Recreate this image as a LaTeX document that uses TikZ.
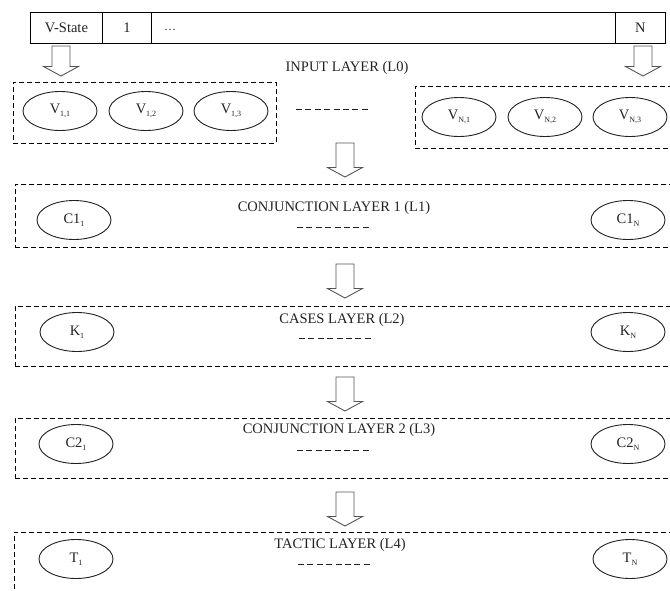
\documentclass[tikz,border=0pt]{standalone}
\usepackage{fontspec}
\setmainfont{Liberation Serif}
\usetikzlibrary{shapes.geometric}
\definecolor{ink}{HTML}{222222}
\definecolor{arrowgray}{HTML}{555555}
\newcommand{\lsub}[1]{\raisebox{-2.5pt}{\fontsize{8}{8}\selectfont #1}}
\begin{document}
\begin{tikzpicture}[x=1pt,y=-1pt,
  font=\fontsize{14.5}{16}\selectfont, text=ink,
  lay/.style={draw=black, dash pattern=on 5pt off 3pt, line width=0.9pt,
    anchor=north west, inner sep=0pt},
  ell/.style={draw=ink, ellipse, minimum width=74pt, minimum height=39pt,
    inner sep=0pt, line width=0.9pt},
  cell/.style={draw=black, line width=0.9pt, minimum height=31pt,
    inner sep=0pt, anchor=north west},
  dotline/.style={draw=ink, dash pattern=on 6pt off 3.4pt, line width=1pt},
  barrow/.pic={\draw[draw=arrowgray, line width=0.9pt, fill=white]
    (-9,0) -- (-9,#1-9.5) -- (-17.5,#1-9.5) -- (0,#1) -- (17.5,#1-9.5)
    -- (9,#1-9.5) -- (9,0) -- cycle;}
]
\useasboundingbox (0,0) rectangle (670,590);
\clip (0,0) rectangle (670,590);

% top state bar
\node[cell, minimum width=72pt]  (vs)   at (30,12)  {V-State};
\node[cell, minimum width=49pt]  (one)  at (102,12) {1};
\node[cell, minimum width=464pt] (mid)  at (151,12) {};
\node[cell, minimum width=50pt]  (nn)   at (615,12) {N};
\node[anchor=west, inner sep=0pt] (ell0) at ([xshift=13pt,yshift=-2pt]mid.west) {\fontsize{12}{12}\selectfont\dots};

% arrows from bar
\pic at (61,46)  {barrow=30};
\pic at (643,46) {barrow=30};

% input layer
\node (t0) at (347,68) {INPUT LAYER (L0)};
\node[lay, minimum width=263pt, minimum height=61pt] (b0l) at (13,82) {};
\node[lay, minimum width=270pt, minimum height=62pt] (b0r) at (415,86) {};
\node[ell] (v11) at (60,111)  {V\lsub{1,1}};
\node[ell] (v12) at (146,111) {V\lsub{1,2}};
\node[ell] (v13) at (231,111) {V\lsub{1,3}};
\draw[dotline] (296,109) coordinate (d0a) -- (369,109) coordinate (d0b);
\node[ell] (vn1) at (459,117) {V\lsub{N,1}};
\node[ell] (vn2) at (545,117) {V\lsub{N,2}};
\node[ell] (vn3) at (630,117) {V\lsub{N,3}};

\pic at (345,143) {barrow=34};

% conjunction layer 1
\node[lay, minimum width=670pt, minimum height=63pt] (b1) at (15,184) {};
\node (t1) at (334,208) {CONJUNCTION LAYER 1 (L1)};
\draw[dotline] (297,227) coordinate (d1a) -- (370,227) coordinate (d1b);
\node[ell] (c11) at (74,220)  {C1\lsub{1}};
\node[ell] (c1n) at (628,220) {C1\lsub{N}};

\pic at (345,264) {barrow=34};

% cases layer
\node[lay, minimum width=670pt, minimum height=60pt] (b2) at (15,306) {};
\node (t2) at (342,320) {CASES LAYER (L2)};
\draw[dotline] (299,338) coordinate (d2a) -- (372,338) coordinate (d2b);
\node[ell] (k1) at (77,332)  {K\lsub{1}};
\node[ell] (kn) at (628,332) {K\lsub{N}};

\pic at (345,377) {barrow=34};

% conjunction layer 2
\node[lay, minimum width=670pt, minimum height=60pt] (b3) at (15,418) {};
\node (t3) at (339,430) {CONJUNCTION LAYER 2 (L3)};
\draw[dotline] (297,450) coordinate (d3a) -- (370,450) coordinate (d3b);
\node[ell] (c21) at (76,444)  {C2\lsub{1}};
\node[ell] (c2n) at (628,444) {C2\lsub{N}};

\pic at (345,492) {barrow=34};

% tactic layer
\node[lay, minimum width=670pt, minimum height=80pt] (b4) at (14,532) {};
\node (t4) at (340,545) {TACTIC LAYER (L4)};
\draw[dotline] (298,564) coordinate (d4a) -- (371,564) coordinate (d4b);
\node[ell] (tt1) at (76,559)  {T\lsub{1}};
\node[ell] (ttn) at (630,559) {T\lsub{N}};
\end{tikzpicture}
\end{document}
